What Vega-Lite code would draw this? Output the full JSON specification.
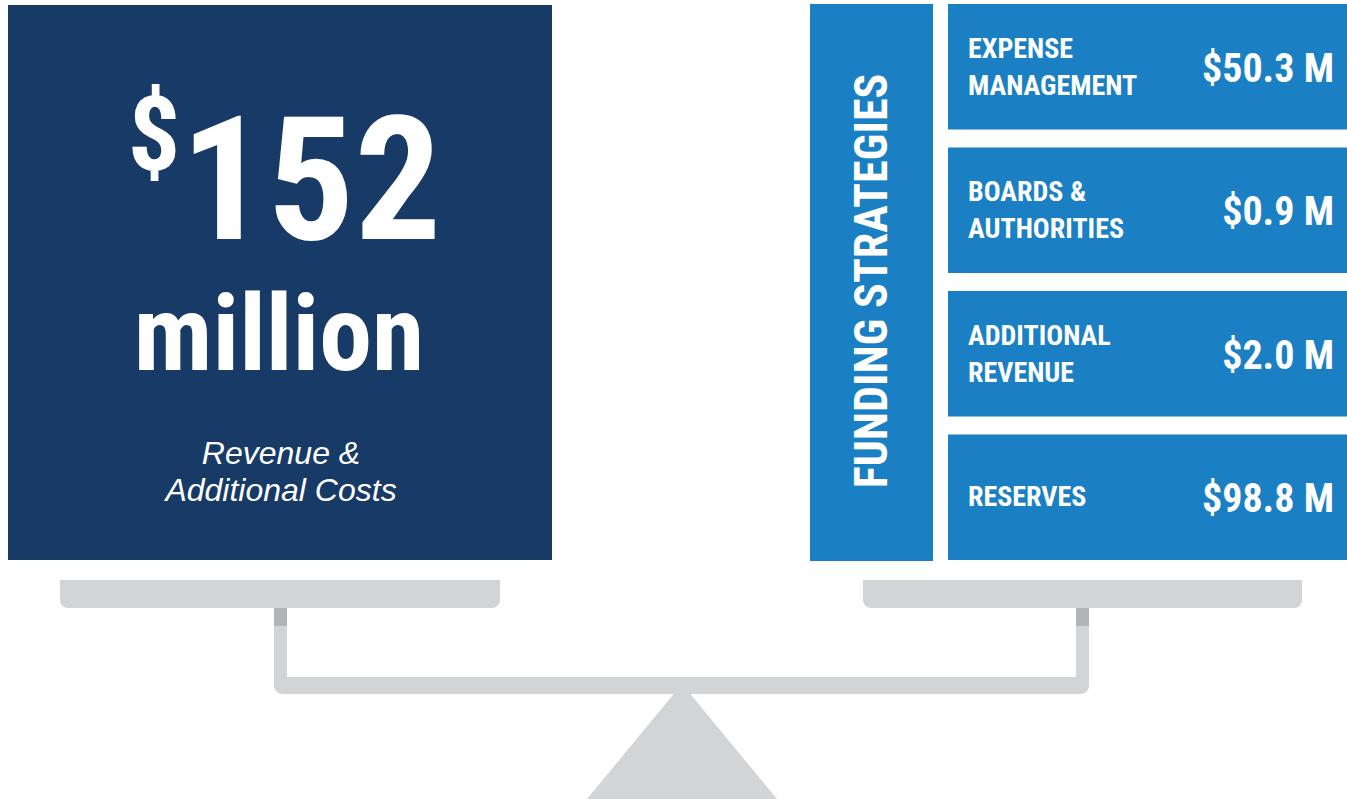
{
  "$schema": "https://vega.github.io/schema/vega-lite/v6.json",
  "width": 1347,
  "height": 799,
  "autosize": {"type": "fit", "contains": "padding"},
  "padding": 0,
  "background": "#ffffff",
  "config": {"view": {"stroke": null}, "axis": {"disable": true}, "legend": {"disable": true}},
  "datasets": {
    "total": [
      {"item": "Revenue & Additional Costs", "currency": "$", "amount": 152, "unit": "million", "caption": ["Revenue &", "Additional Costs"]}
    ],
    "strategies": [
      {"strategy": "Expense Management", "label": ["EXPENSE", "MANAGEMENT"], "amount": 50.3, "amount_text": "$50.3 M"},
      {"strategy": "Boards & Authorities", "label": ["BOARDS &", "AUTHORITIES"], "amount": 0.9, "amount_text": "$0.9 M"},
      {"strategy": "Additional Revenue", "label": ["ADDITIONAL", "REVENUE"], "amount": 2.0, "amount_text": "$2.0 M"},
      {"strategy": "Reserves", "label": ["RESERVES"], "amount": 98.8, "amount_text": "$98.8 M"}
    ]
  },
  "layer": [
    {
      "data": {"name": "total"},
      "layer": [
        {
          "mark": {"type": "rect", "color": "#183a66"},
          "encoding": {
            "x": {"datum": 8, "type": "quantitative", "scale": {"domain": [0, 1347], "nice": false, "zero": false}},
            "x2": {"datum": 552},
            "y": {"datum": 5, "type": "quantitative", "scale": {"domain": [0, 799], "nice": false, "zero": false, "reverse": true}},
            "y2": {"datum": 560}
          }
        },
        {
          "mark": {"type": "text", "color": "#ffffff", "font": "Roboto Condensed, Liberation Sans, sans-serif", "fontWeight": "bold", "fontSize": 104, "align": "center", "baseline": "alphabetic"},
          "encoding": {"x": {"datum": 154}, "y": {"datum": 170}, "text": {"field": "currency"}}
        },
        {
          "mark": {"type": "text", "color": "#ffffff", "font": "Roboto Condensed, Liberation Sans, sans-serif", "fontWeight": "bold", "fontSize": 172, "align": "center", "baseline": "alphabetic"},
          "encoding": {"x": {"datum": 311}, "y": {"datum": 239}, "text": {"field": "amount"}}
        },
        {
          "mark": {"type": "text", "color": "#ffffff", "font": "Roboto Condensed, Liberation Sans, sans-serif", "fontWeight": "bold", "fontSize": 106, "align": "center", "baseline": "alphabetic"},
          "encoding": {"x": {"datum": 279}, "y": {"datum": 370}, "text": {"field": "unit"}}
        },
        {
          "mark": {"type": "text", "color": "#ffffff", "font": "Liberation Sans, Arial, sans-serif", "fontStyle": "italic", "fontSize": 32, "lineHeight": 37, "align": "center", "baseline": "alphabetic"},
          "encoding": {"x": {"datum": 281}, "y": {"datum": 464}, "text": {"field": "caption"}}
        },
        {
          "mark": {"type": "rect", "color": "#1b7fc3"},
          "encoding": {"x": {"datum": 810}, "x2": {"datum": 933}, "y": {"datum": 4}, "y2": {"datum": 561}}
        },
        {
          "mark": {"type": "text", "text": "FUNDING STRATEGIES", "angle": 270, "color": "#ffffff", "font": "Roboto Condensed, Liberation Sans, sans-serif", "fontWeight": "bold", "fontSize": 46, "align": "center", "baseline": "middle"},
          "encoding": {"x": {"datum": 873}, "y": {"datum": 281}}
        },
        {
          "mark": {"type": "rect", "color": "#d3d4d6", "cornerRadiusBottomLeft": 8, "cornerRadiusBottomRight": 8},
          "encoding": {"x": {"datum": 60}, "x2": {"datum": 500}, "y": {"datum": 580}, "y2": {"datum": 608}}
        },
        {
          "mark": {"type": "rect", "color": "#d3d4d6", "cornerRadiusBottomLeft": 8, "cornerRadiusBottomRight": 8},
          "encoding": {"x": {"datum": 863}, "x2": {"datum": 1302}, "y": {"datum": 580}, "y2": {"datum": 608}}
        },
        {
          "mark": {"type": "rect", "color": "#d3d4d6"},
          "encoding": {"x": {"datum": 274}, "x2": {"datum": 287}, "y": {"datum": 608}, "y2": {"datum": 678}}
        },
        {
          "mark": {"type": "rect", "color": "#d3d4d6"},
          "encoding": {"x": {"datum": 1076}, "x2": {"datum": 1089}, "y": {"datum": 608}, "y2": {"datum": 678}}
        },
        {
          "mark": {"type": "rect", "color": "#b3b4b6"},
          "encoding": {"x": {"datum": 274}, "x2": {"datum": 287}, "y": {"datum": 608}, "y2": {"datum": 626}}
        },
        {
          "mark": {"type": "rect", "color": "#b3b4b6"},
          "encoding": {"x": {"datum": 1076}, "x2": {"datum": 1089}, "y": {"datum": 608}, "y2": {"datum": 626}}
        },
        {
          "mark": {"type": "rect", "color": "#d3d4d6", "cornerRadiusBottomLeft": 17, "cornerRadiusBottomRight": 17},
          "encoding": {"x": {"datum": 274}, "x2": {"datum": 1089}, "y": {"datum": 677}, "y2": {"datum": 694}}
        },
        {
          "mark": {"type": "point", "shape": "M-1,1L-0.07,-0.126L0.07,-0.126L1,1Z", "filled": true, "color": "#d3d4d6", "opacity": 1, "size": 36100, "strokeWidth": 0},
          "encoding": {"x": {"datum": 682}, "y": {"datum": 704}}
        }
      ]
    },
    {
      "data": {"name": "strategies"},
      "encoding": {
        "y": {"field": "strategy", "type": "nominal", "sort": null, "axis": null, "scale": {"domain": ["Expense Management", "Boards & Authorities", "Additional Revenue", "Reserves"], "range": [4, 560], "paddingInner": 0.126, "paddingOuter": 0}}
      },
      "layer": [
        {
          "mark": {"type": "rect", "color": "#1b7fc3"},
          "encoding": {"x": {"datum": 948}, "x2": {"datum": 1347}}
        },
        {
          "transform": [{"filter": "length(datum.label) > 1"}],
          "mark": {"type": "text", "color": "#ffffff", "font": "Roboto Condensed, Liberation Sans, sans-serif", "fontWeight": "bold", "fontSize": 28, "lineHeight": 37, "align": "left", "baseline": "middle", "dy": -17},
          "encoding": {"x": {"datum": 968}, "text": {"field": "label"}}
        },
        {
          "transform": [{"filter": "length(datum.label) == 1"}],
          "mark": {"type": "text", "color": "#ffffff", "font": "Roboto Condensed, Liberation Sans, sans-serif", "fontWeight": "bold", "fontSize": 28, "lineHeight": 37, "align": "left", "baseline": "middle", "dy": 1},
          "encoding": {"x": {"datum": 968}, "text": {"field": "label"}}
        },
        {
          "mark": {"type": "text", "color": "#ffffff", "font": "Roboto Condensed, Liberation Sans, sans-serif", "fontWeight": "bold", "fontSize": 40, "align": "right", "baseline": "middle", "dy": 3},
          "encoding": {"x": {"datum": 1334}, "text": {"field": "amount_text"}}
        }
      ]
    }
  ],
  "resolve": {"scale": {"y": "independent"}}
}
